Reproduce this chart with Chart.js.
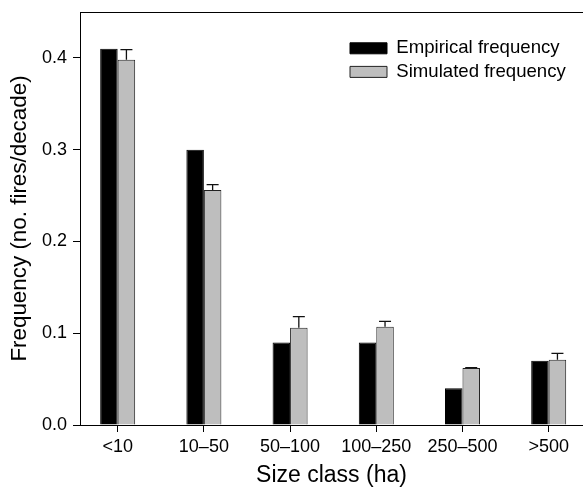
<!DOCTYPE html>
<html>
<head>
<meta charset="utf-8">
<script src="https://cdn.jsdelivr.net/npm/chart.js@4.4.1/dist/chart.umd.min.js"></script>
<style>
  html, body { margin: 0; padding: 0; background: #fff; }
  #wrap { width: 583px; height: 488px; }
</style>
</head>
<body>
<div id="wrap"><canvas id="chart"></canvas></div>
<script>
// size classes on the x axis
var categories = ['<10', '10–50', '50–100', '100–250', '250–500', '>500'];
var empirical = [0.41, 0.30, 0.09, 0.09, 0.04, 0.07];
var simulated = [0.398, 0.256, 0.106, 0.107, 0.062, 0.071];
// upper end of the error bars on the simulated bars
var simulatedUpper = [0.409, 0.262, 0.118, 0.113, 0.0625, 0.078];
var yTicks = [0.0, 0.1, 0.2, 0.3, 0.4];

var FONT = "'Liberation Sans', Arial, Helvetica, sans-serif";

function toPoints(values) {
  var pts = [];
  for (var i = 0; i < values.length; i++) {
    pts.push({x: i, y: values[i]});
  }
  return pts;
}

// upward error bars with a cap, on the simulated bars
var errorBars = {
  id: 'errorBars',
  afterDatasetsDraw: function(chart) {
    var meta = chart.getDatasetMeta(1);
    var yScale = chart.scales.y;
    var ctx = chart.ctx;
    ctx.save();
    ctx.strokeStyle = '#111';
    ctx.lineWidth = 1.3;
    for (var i = 0; i < meta.data.length; i++) {
      var bar = meta.data[i];
      var top = yScale.getPixelForValue(simulatedUpper[i]);
      ctx.beginPath();
      ctx.moveTo(bar.x, bar.y);
      ctx.lineTo(bar.x, top);
      ctx.moveTo(bar.x - 6, top);
      ctx.lineTo(bar.x + 6, top);
      ctx.stroke();
    }
    ctx.restore();
  }
};

// put the legend in the upper right of the plot box
var legendInside = {
  id: 'legendInside',
  afterLayout: function(chart) {
    chart.legend.left = chart.chartArea.right - 238;
    chart.legend.top = 34;
  }
};

// axes get exact sizes and no extra label padding
function fixSize(w, h) {
  return function(s) {
    if (w !== null) s.width = w;
    if (h !== null) s.height = h;
    s.paddingTop = 0;
    s.paddingBottom = 0;
    s.paddingLeft = 0;
    s.paddingRight = 0;
  };
}

var tickFont = {family: FONT, size: 18};
var legendFont = {family: FONT, size: 18.6};
var titleFont = {family: FONT, size: 23, lineHeight: 1};

new Chart(document.getElementById('chart'), {
  type: 'bar',
  data: {
    datasets: [
      {
        label: 'Empirical frequency',
        data: toPoints(empirical),
        backgroundColor: '#000',
        borderColor: '#000',
        borderWidth: 1
      },
      {
        label: 'Simulated frequency',
        data: toPoints(simulated),
        backgroundColor: '#bebebe',
        borderColor: '#222',
        borderWidth: 1
      }
    ]
  },
  options: {
    responsive: true,
    maintainAspectRatio: false,
    animation: false,
    layout: {padding: {top: 12, left: 0, right: 0, bottom: 0}},
    datasets: {bar: {categoryPercentage: 0.406, barPercentage: 1}},
    scales: {
      x: {
        type: 'linear',
        min: -0.437,
        max: 5.398,
        offset: false,
        afterBuildTicks: function(s) {
          s.ticks = categories.map(function(c, i) { return {value: i}; });
        },
        afterFit: fixSize(null, 63),
        grid: {display: true, drawOnChartArea: false, drawTicks: true, tickLength: 7, color: '#000', offset: false},
        border: {display: true, color: '#000', width: 1},
        ticks: {
          color: '#000', font: tickFont, padding: 4, maxRotation: 0, autoSkip: false,
          callback: function(v) { return categories[v]; }
        },
        title: {display: true, text: 'Size class (ha)', color: '#000', font: titleFont, padding: {top: 0, bottom: 0.5}}
      },
      x2: {
        type: 'linear',
        position: 'top',
        min: -0.437,
        max: 5.398,
        afterFit: fixSize(null, 0),
        grid: {display: false, drawTicks: false},
        ticks: {display: false},
        border: {display: true, color: '#000', width: 1}
      },
      y: {
        min: 0,
        max: 0.45,
        afterBuildTicks: function(s) {
          s.ticks = yTicks.map(function(v) { return {value: v}; });
        },
        afterFit: fixSize(80, null),
        grid: {display: true, drawOnChartArea: false, drawTicks: true, tickLength: 7, color: '#000'},
        border: {display: true, color: '#000', width: 1},
        ticks: {
          color: '#000', font: tickFont, padding: 6,
          callback: function(v) { return v.toFixed(1); }
        },
        title: {
          display: true, text: 'Frequency (no. fires/decade)', color: '#000',
          font: {family: FONT, size: 22.4, lineHeight: 1}, padding: {top: 9, bottom: 0}
        }
      }
    },
    plugins: {
      legend: {
        position: 'chartArea',
        align: 'start',
        labels: {boxWidth: 37, boxHeight: 11, padding: 5, color: '#000', font: legendFont}
      },
      tooltip: {enabled: false}
    }
  },
  plugins: [errorBars, legendInside]
});
</script>
</body>
</html>
